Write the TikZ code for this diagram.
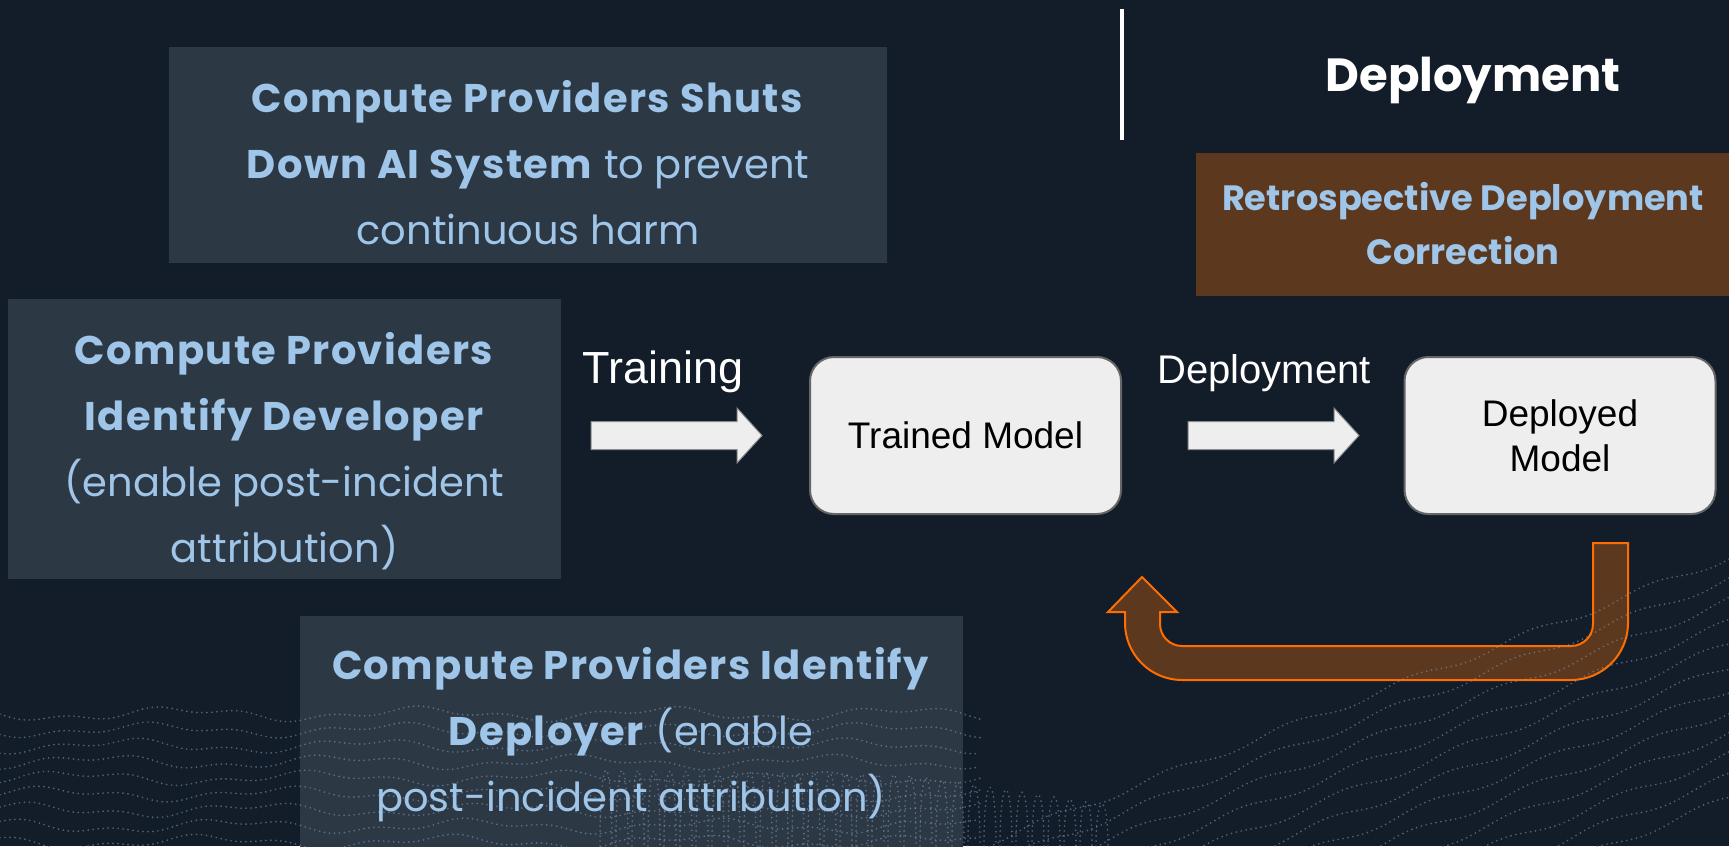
\documentclass[tikz,border=0pt]{standalone}
\usepackage{fontspec}
\setmainfont{Poppins}
\newfontfamily\panelfont{Poppins}[BoldFeatures={LetterSpace=3.5}]
\newfontfamily\arialfont{Liberation Sans}

\definecolor{bgnavy}{RGB}{19,29,41}
\definecolor{panelgray}{RGB}{45,56,69}
\definecolor{skyblue}{HTML}{9FC5E8}
\definecolor{rustbrown}{RGB}{91,56,30}
\definecolor{flameorange}{HTML}{FF6D00}
\definecolor{paper}{HTML}{EEEEEE}
\definecolor{edgegray}{HTML}{666666}
\definecolor{dotblue}{RGB}{130,155,190}

\tikzset{
  panel/.style={fill=panelgray, draw=none, inner sep=0pt, anchor=north west},
  bluetext/.style={text=skyblue, align=center, inner sep=0pt,
    font=\panelfont\fontsize{40}{66}\selectfont},
  modelbox/.style={rounded corners=24pt, fill=paper, draw=edgegray, line width=2pt,
    minimum width=311pt, minimum height=157pt, inner sep=0pt, align=center,
    text=black, font=\arialfont\fontsize{37}{45}\selectfont},
  steplabel/.style={anchor=base, text=white, inner sep=0pt},
  blockarrow/.style={fill=paper, draw=black!45, line width=1pt},
  returnarrow/.style={fill=rustbrown, draw=flameorange, line width=2pt},
  dotline/.style={draw=dotblue, line width=1.9pt, line cap=round,
    dash pattern=on 0pt off 5pt, opacity=0.55},
  pics/fatarrow/.style={code={
    \draw[blockarrow] (0,-14) -- (#1-25,-14) -- (#1-25,-27.5) -- (#1,0)
      -- (#1-25,27.5) -- (#1-25,14) -- (0,14) -- cycle;}}
}

\begin{document}
\begin{tikzpicture}[x=1pt, y=-1pt]
% canvas
\fill[bgnavy] (0,0) rectangle (1729,846);
\useasboundingbox (0,0) rectangle (1729,846);

% text panels
\node[panel, minimum width=718pt, minimum height=216pt] (shutbox) at (169,47) {};
\node[panel, minimum width=553pt, minimum height=280pt] (devbox) at (8,299) {};
\node[panel, minimum width=663pt, minimum height=240pt] (depbox) at (300,616) {};
\node[fill=rustbrown, inner sep=0pt, anchor=north west,
      minimum width=540pt, minimum height=143pt] (retrobox) at (1196,153) {};

% phase divider and heading
\coordinate (divtop) at (1122,9);
\coordinate (divbot) at (1122,140);
\draw[white, line width=4pt] (divtop) -- (divbot);
\node[steplabel, font=\bfseries\fontsize{46.5}{60}\selectfont] (phase) at (1473,91) {Deployment};

% model boxes
\node[modelbox] (trained) at (965.5,435.5) {Trained Model};
\node[modelbox] (deployed) at (1560,435.5) {Deployed\\Model};

% block arrows with their labels
\pic at (591,435.5) {fatarrow=171};
\pic at (1188,435.5) {fatarrow=171};
\node[steplabel, font=\arialfont\fontsize{45}{50}\selectfont] (trainlbl) at (663,383) {Training};
\node[steplabel, font=\arialfont\fontsize{40}{50}\selectfont] (deplbl) at (1264,383) {Deployment};

% U-shaped return arrow from the deployed model back to the trained model
\draw[returnarrow] (1593,543) -- (1628,543) -- (1628,623)
  arc[start angle=0, end angle=90, radius=57] -- (1182,680)
  arc[start angle=90, end angle=180, radius=57] -- (1125,612)
  -- (1108,612) -- (1142,577) -- (1177,612) -- (1160,612) -- (1160,624)
  arc[start angle=180, end angle=90, radius=22] -- (1571,646)
  arc[start angle=90, end angle=0, radius=22] -- cycle;

% dotted wave texture along the bottom
\begin{scope}
\clip (0,0) rectangle (1729,846);
\foreach \k in {0,...,8}{
  \draw[dotline] plot[smooth, samples=90, domain=0:980]
    (\x, {714 + \k*16 + 5*sin(\x*1.5 + \k*40) + 3*sin(\x*4.1 + \k*25)});
}
\foreach \k in {0,...,11}{
  \draw[dotline] plot[smooth, samples=90, domain=900:1729]
    (\x, {816 - 0.386*(\x-1058) + \k*22 + 4*sin(\x*3 + \k*50)});
}
\foreach \x in {600,616,...,1110}{
  \pgfmathsetmacro{\crest}{\x < 900 ? 745 + 0.02*(\x-600) : 751 + 0.2*(\x-900)}
  \draw[dotline] (\x,846) .. controls (\x,\crest) and (\x+12,\crest) .. (\x+12,846);
}
\end{scope}

% panel texts
\node[bluetext] (shuttxt) at (528,162.5)
  {\textbf{Compute Providers Shuts}\\\textbf{Down AI System} to prevent\\continuous harm};
\node[bluetext] (devtxt) at (284.5,451)
  {\textbf{Compute Providers}\\\textbf{Identify Developer}\\(enable post-incident\\attribution)};
\node[bluetext] (deptxt) at (631,735)
  {\textbf{Compute Providers Identify}\\\textbf{Deployer} (enable\\post-incident attribution)};
\node[bluetext, font=\bfseries\fontsize{35.2}{54}\selectfont] (retrotxt) at (1463,224)
  {Retrospective Deployment\\Correction};
\end{tikzpicture}
\end{document}
